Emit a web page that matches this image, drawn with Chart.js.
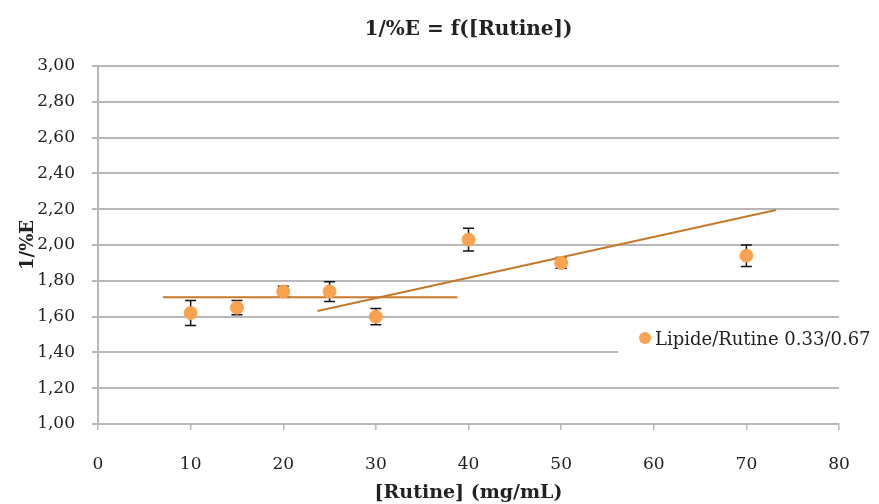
<!DOCTYPE html>
<html>
<head>
<meta charset="utf-8">
<script src="https://cdn.jsdelivr.net/npm/chart.js@4.4.1/dist/chart.umd.min.js"></script>
<style>
  html, body { margin: 0; padding: 0; background: #ffffff; }
  #wrap { width: 879px; height: 504px; }
</style>
</head>
<body>
<div id="wrap"><canvas id="c" width="879" height="504"></canvas></div>
<script>
// ---- data ----
const xValues = [10, 15, 20, 25, 30, 40, 50, 70];
const yValues = [1.62, 1.65, 1.74, 1.74, 1.60, 2.03, 1.90, 1.94];
const yErrors = [0.07, 0.04, 0.03, 0.055, 0.045, 0.063, 0.03, 0.06];
const trend1X = [7.0, 38.8];
const trend1Y = [1.708, 1.708];
const trend2X = [23.7, 73.2];
const trend2Y = [1.631, 2.196];
const seriesName = 'Lipide/Rutine 0.33/0.67';
const chartTitle = '1/%E = f([Rutine])';
const xTitle = '[Rutine] (mg/mL)';
const yTitle = '1/%E';
const xTicks = [0, 10, 20, 30, 40, 50, 60, 70, 80];
const yTicks = [1.00, 1.20, 1.40, 1.60, 1.80, 2.00, 2.20, 2.40, 2.60, 2.80, 3.00];

const FONT = "'DejaVu Serif', 'Liberation Serif', serif";
const pointColor = '#f9a24f';
const trendColor = '#c6792a';
const gridColor = '#b8b8b8';

const points = xValues.map((x, i) => ({ x: x, y: yValues[i] }));
const t1 = trend1X.map((x, i) => ({ x: x, y: trend1Y[i] }));
const t2 = trend2X.map((x, i) => ({ x: x, y: trend2Y[i] }));

const errorBars = {
  id: 'errorBars',
  beforeDatasetsDraw(chart) {
    const { ctx, scales: { x, y } } = chart;
    ctx.save();
    ctx.strokeStyle = '#111111';
    ctx.lineWidth = 1.5;
    xValues.forEach((xv, i) => {
      const px = x.getPixelForValue(xv);
      const top = y.getPixelForValue(yValues[i] + yErrors[i]);
      const bot = y.getPixelForValue(yValues[i] - yErrors[i]);
      ctx.beginPath();
      ctx.moveTo(px, top); ctx.lineTo(px, bot);
      ctx.moveTo(px - 5.5, top); ctx.lineTo(px + 5.5, top);
      ctx.moveTo(px - 5.5, bot); ctx.lineTo(px + 5.5, bot);
      ctx.stroke();
    });
    ctx.restore();
  }
};

const legendBox = {
  id: 'legendBox',
  afterDraw(chart) {
    const { ctx } = chart;
    ctx.save();
    ctx.fillStyle = '#ffffff';
    ctx.fillRect(618, 326, 261, 52);
    ctx.fillStyle = pointColor;
    ctx.beginPath();
    ctx.arc(645, 338, 6, 0, Math.PI * 2);
    ctx.fill();
    ctx.fillStyle = '#222222';
    ctx.font = "18px " + FONT;
    ctx.textBaseline = 'middle';
    ctx.textAlign = 'left';
    ctx.fillText(seriesName, 655, 340);
    ctx.restore();
  }
};

new Chart(document.getElementById('c'), {
  type: 'scatter',
  data: {
    datasets: [
      {
        label: seriesName,
        data: points,
        backgroundColor: pointColor,
        borderColor: pointColor,
        pointRadius: 6.5,
        pointHoverRadius: 6.5,
        showLine: false,
        order: 1
      },
      {
        label: 'trend1',
        data: t1,
        showLine: true,
        borderColor: trendColor,
        borderWidth: 2,
        pointRadius: 0,
        fill: false,
        order: 2
      },
      {
        label: 'trend2',
        data: t2,
        showLine: true,
        borderColor: trendColor,
        borderWidth: 2,
        pointRadius: 0,
        fill: false,
        order: 2
      }
    ]
  },
  options: {
    responsive: false,
    animation: false,
    devicePixelRatio: 1,
    layout: { padding: { left: 0, right: 40, top: 0, bottom: 0 } },
    plugins: {
      legend: { display: false },
      tooltip: { enabled: false },
      title: {
        display: true,
        text: chartTitle,
        fullSize: false,
        color: '#222222',
        font: { family: FONT, size: 20, weight: 'bold', lineHeight: 1.2 },
        padding: { top: 18, bottom: 24 }
      }
    },
    scales: {
      x: {
        type: 'linear',
        min: 0, max: 80,
        afterFit(s) { s.height = 80; },
        afterBuildTicks(s) { s.ticks = xTicks.map(v => ({ value: v })); },
        border: { display: true, color: gridColor, width: 2 },
        grid: { display: true, drawOnChartArea: false, drawTicks: true, tickLength: 6, color: gridColor, lineWidth: 1.5 },
        ticks: {
          color: '#222222',
          padding: 24,
          maxRotation: 0,
          font: { family: FONT, size: 17 },
          callback: v => String(v)
        },
        title: {
          display: true,
          text: xTitle,
          color: '#222222',
          font: { family: FONT, size: 19, weight: 'bold', lineHeight: 1.2 },
          padding: { top: 0, bottom: 0 }
        }
      },
      y: {
        type: 'linear',
        min: 1, max: 3,
        afterFit(s) { s.width = 98; },
        afterBuildTicks(s) { s.ticks = yTicks.map(v => ({ value: v })); },
        border: { display: true, color: gridColor, width: 2 },
        grid: { display: true, drawOnChartArea: true, drawTicks: true, tickLength: 6, color: gridColor, lineWidth: 2 },
        ticks: {
          color: '#222222',
          padding: 17,
          font: { family: FONT, size: 17 },
          callback: v => Number(v).toFixed(2).replace('.', ',')
        },
        title: {
          display: true,
          text: yTitle,
          color: '#222222',
          font: { family: FONT, size: 18, weight: 'bold', lineHeight: 1.2 },
          padding: { top: 18, bottom: 0 }
        }
      }
    }
  },
  plugins: [errorBars, legendBox]
});
</script>
</body>
</html>
